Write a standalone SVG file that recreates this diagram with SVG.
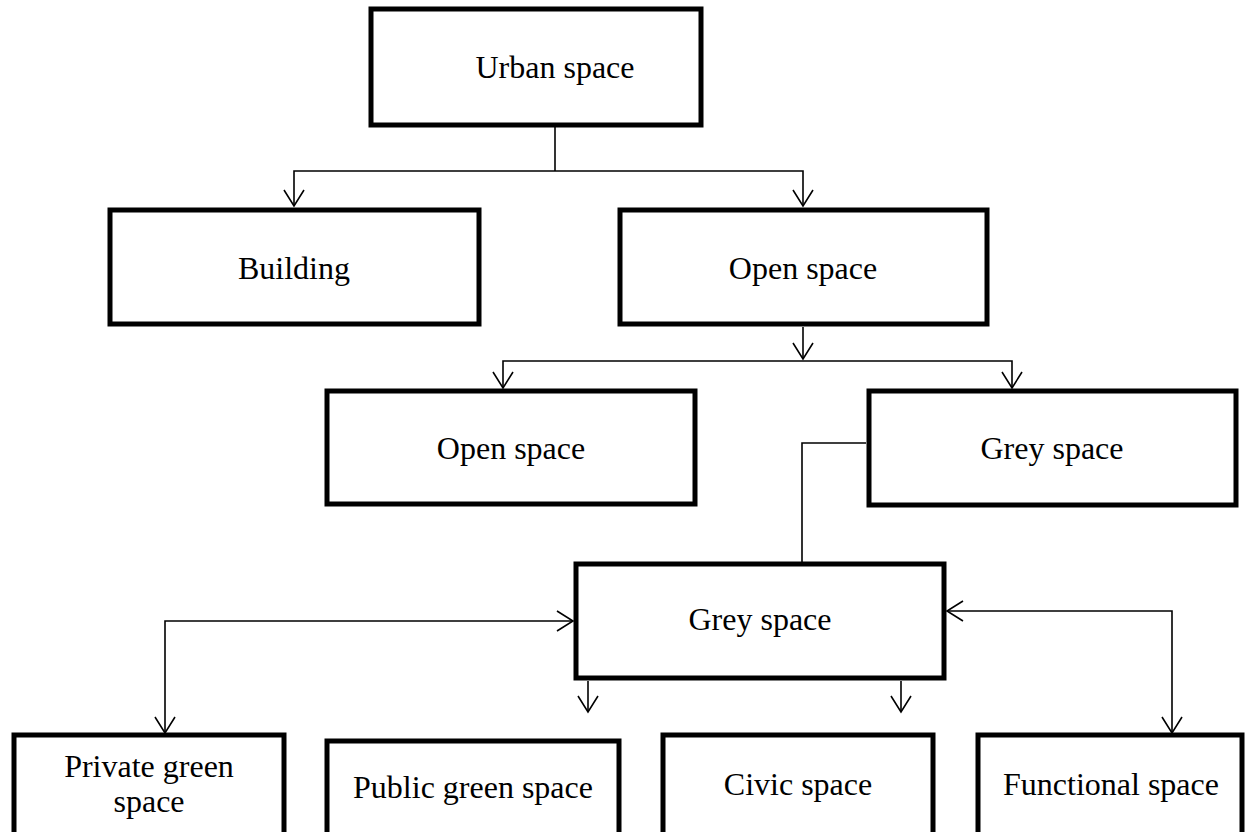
<svg xmlns="http://www.w3.org/2000/svg" width="1248" height="832" viewBox="0 0 1248 832">
<style>
.box{fill:#fff;stroke:#000;stroke-width:5}
.lbl{font-family:"Liberation Serif","Times New Roman",serif;font-size:32px;fill:#000;text-anchor:middle}
.con{fill:none;stroke:#000;stroke-width:1.6}
.arr{marker-end:url(#ah)}
.bi{marker-start:url(#ah);marker-end:url(#ah)}
</style>
<defs>
<marker id="ah" markerUnits="userSpaceOnUse" viewBox="-18 -11 20 22" refX="0" refY="0" markerWidth="20" markerHeight="22" orient="auto-start-reverse" overflow="visible">
<path d="M-16,-10 L0,0 L-16,10" fill="none" stroke="#000" stroke-width="1.6"/>
</marker>
</defs>
<rect width="1248" height="832" fill="#fff"/>
<g id="connectors">
<path class="con" d="M555,127 V171"/>
<path class="con arr" d="M555,171 H294 V206"/>
<path class="con arr" d="M555,171 H803 V206"/>
<path class="con arr" d="M803,327 V359"/>
<path class="con arr" d="M803,361 H503 V388"/>
<path class="con arr" d="M803,361 H1012 V388"/>
<path class="con" d="M866,443 H802 V562"/>
<path class="con bi" d="M573,621 H165 V733"/>
<path class="con bi" d="M947,611 H1172 V733"/>
<path class="con arr" d="M588,681 V712"/>
<path class="con arr" d="M901,681 V712"/>
</g>
<g id="n-urban"><rect class="box" x="371" y="9" width="330" height="116"/><text class="lbl" x="555" y="78">Urban space</text></g>
<g id="n-building"><rect class="box" x="110" y="210" width="369" height="114"/><text class="lbl" x="294" y="279">Building</text></g>
<g id="n-open1"><rect class="box" x="620" y="210" width="367" height="114"/><text class="lbl" x="803" y="279">Open space</text></g>
<g id="n-open2"><rect class="box" x="327" y="391" width="368" height="113"/><text class="lbl" x="511" y="459">Open space</text></g>
<g id="n-grey1"><rect class="box" x="869" y="391" width="367" height="114"/><text class="lbl" x="1052" y="459">Grey space</text></g>
<g id="n-grey2"><rect class="box" x="576" y="564" width="368" height="114"/><text class="lbl" x="760" y="630">Grey space</text></g>
<g id="n-private"><rect class="box" x="14" y="735" width="270" height="120"/><text class="lbl" x="149" y="777">Private green</text><text class="lbl" x="149" y="812">space</text></g>
<g id="n-public"><rect class="box" x="327" y="741" width="292" height="120"/><text class="lbl" x="473" y="798">Public green space</text></g>
<g id="n-civic"><rect class="box" x="663" y="735" width="270" height="120"/><text class="lbl" x="798" y="795">Civic space</text></g>
<g id="n-functional"><rect class="box" x="978" y="735" width="264" height="120"/><text class="lbl" x="1111" y="795">Functional space</text></g>
</svg>
